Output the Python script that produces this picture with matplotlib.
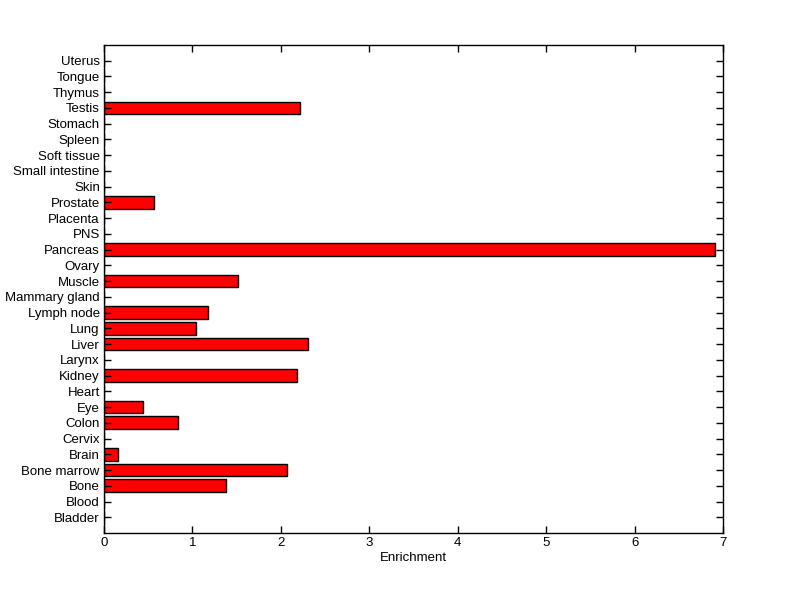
import matplotlib
matplotlib.use("Agg")
import matplotlib.pyplot as plt

categories = ["Bladder", "Blood", "Bone", "Bone marrow", "Brain", "Cervix", "Colon", "Eye",
              "Heart", "Kidney", "Larynx", "Liver", "Lung", "Lymph node", "Mammary gland",
              "Muscle", "Ovary", "Pancreas", "PNS", "Placenta", "Prostate", "Skin",
              "Small intestine", "Soft tissue", "Spleen", "Stomach", "Testis", "Thymus",
              "Tongue", "Uterus"]
enrichment = [0, 0, 1.385, 2.073, 0.163, 0, 0.835, 0.44,
              0, 2.18, 0, 2.305, 1.04, 1.176, 0,
              1.513, 0, 6.91, 0, 0, 0.568, 0,
              0, 0, 0, 0, 2.22, 0,
              0, 0]
xticks = [0, 1, 2, 3, 4, 5, 6, 7]

plt.rcParams['font.family'] = ['Liberation Sans', 'DejaVu Sans']
fig = plt.figure(figsize=(8, 5.99), dpi=100)
ax = fig.add_axes([0.13, 0.1102, 0.77375, 0.8147])
pos = list(range(1, len(categories) + 1))
ax.barh(pos, enrichment, height=0.8, color='#ff0000', edgecolor='black', linewidth=1.0)
ax.set_ylim(0, len(categories) + 1)
ax.set_xlim(0, 7)
ax.set_yticks(pos)
ax.set_yticklabels(categories, fontsize=9.5)
ax.set_xticks(xticks)
ax.set_xticklabels([str(t) for t in xticks], fontsize=9.5)
ax.set_xlabel("Enrichment", fontsize=9.5, labelpad=2)
ax.tick_params(direction='in', top=True, right=True, length=5, width=1, pad=3)
for s in ax.spines.values():
    s.set_linewidth(1)
fig.savefig("out.png", dpi=100)
